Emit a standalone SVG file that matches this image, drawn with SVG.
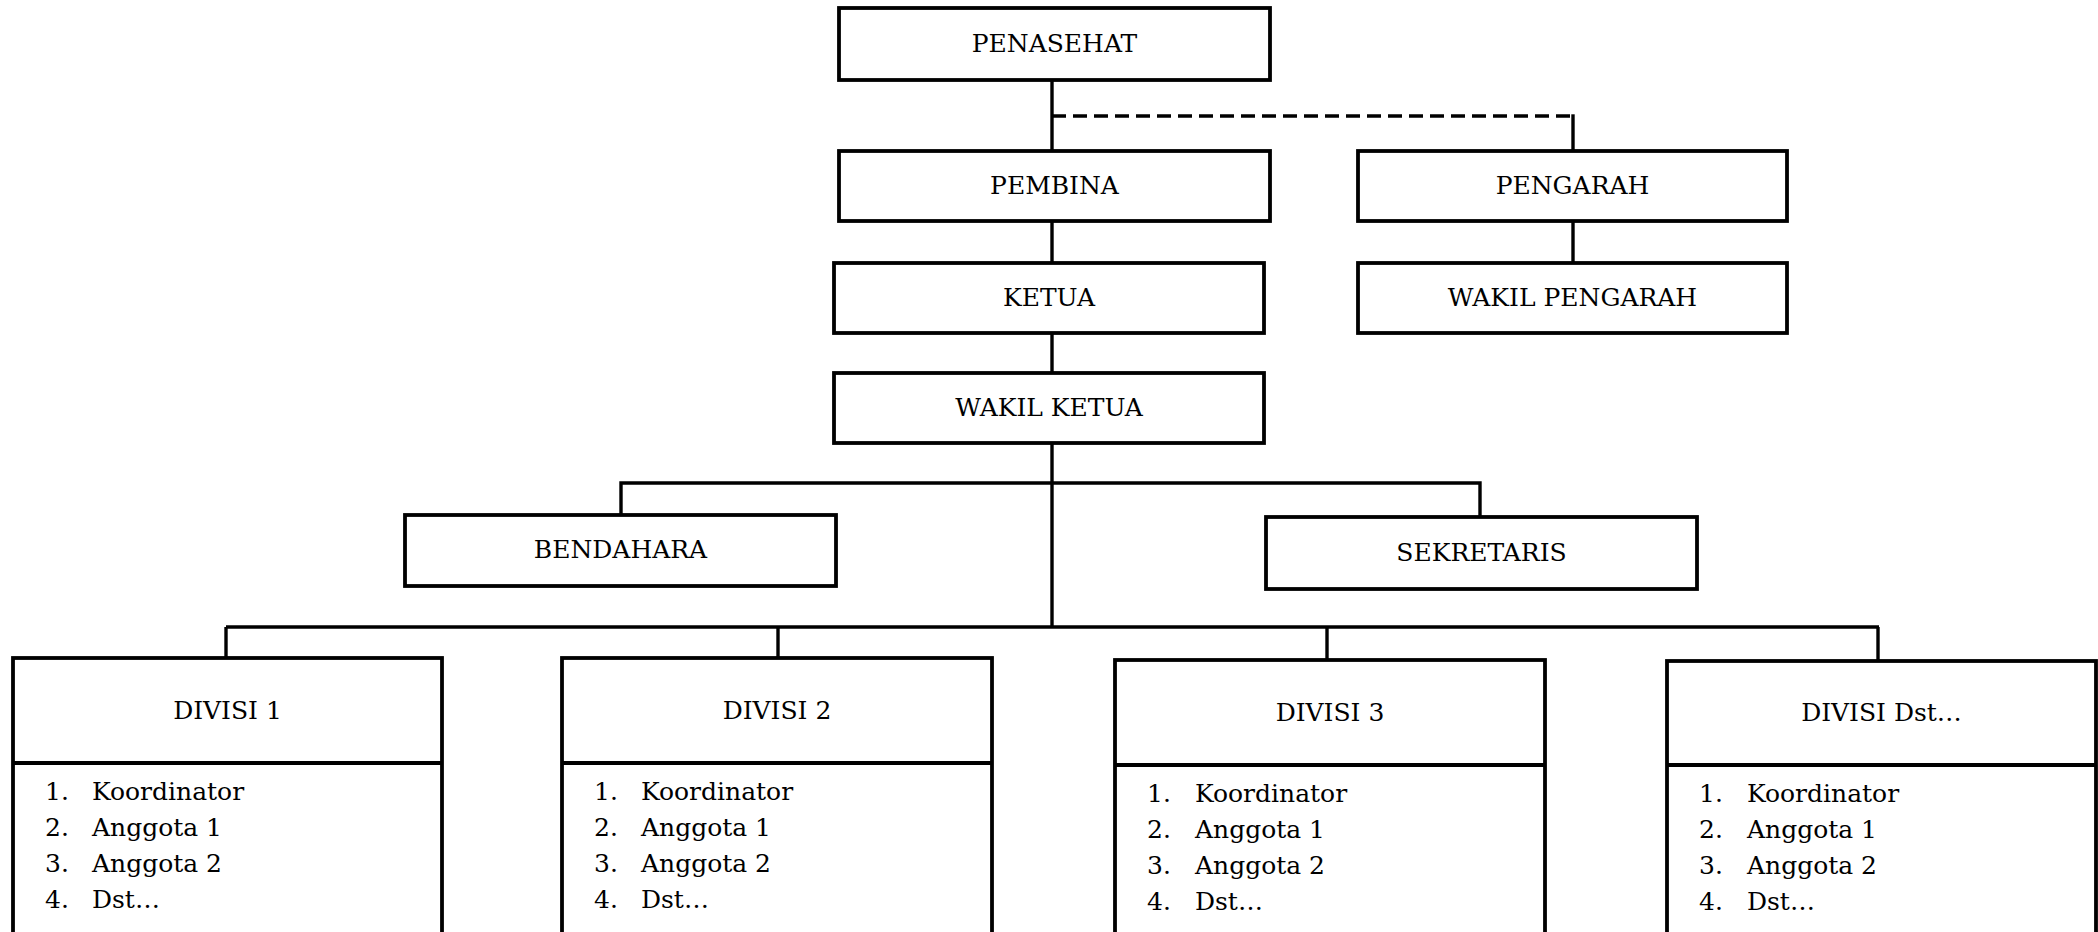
<svg xmlns="http://www.w3.org/2000/svg" width="2098" height="932" viewBox="0 0 2098 932">
<style>
.box{fill:#fff;stroke:#000;stroke-width:3.8}
.ln{fill:none;stroke:#000;stroke-width:3.4}
.dv{fill:none;stroke:#000;stroke-width:3.8}
.dash{fill:none;stroke:#000;stroke-width:3.4;stroke-dasharray:14 7}
text{font-family:"DejaVu Serif","Liberation Serif",serif;font-size:25px;fill:#000}
.c{text-anchor:middle}
.li{font-size:25.5px}
</style>
<rect x="0" y="0" width="2098" height="932" fill="#fff"/>
<g id="connectors">
<line class="ln" x1="1052" y1="80" x2="1052" y2="151"/>
<line class="dash" x1="1052" y1="116" x2="1573" y2="116"/>
<line class="ln" x1="1573" y1="114.3" x2="1573" y2="151"/>
<line class="ln" x1="1052" y1="221" x2="1052" y2="263"/>
<line class="ln" x1="1573" y1="221" x2="1573" y2="263"/>
<line class="ln" x1="1052" y1="333" x2="1052" y2="373"/>
<line class="ln" x1="1052" y1="443" x2="1052" y2="627"/>
<polyline class="ln" points="621,515 621,483 1480,483 1480,516"/>
<line class="ln" x1="226" y1="627" x2="1879" y2="627"/>
<line class="ln" x1="226" y1="627" x2="226" y2="658"/>
<line class="ln" x1="778" y1="627" x2="778" y2="658"/>
<line class="ln" x1="1327" y1="627" x2="1327" y2="660"/>
<line class="ln" x1="1878" y1="627" x2="1878" y2="661"/>
</g>
<g id="penasehat"><rect class="box" x="839" y="8" width="431" height="72"/><text class="c" x="1054.5" y="52">PENASEHAT</text></g>
<g id="pembina"><rect class="box" x="839" y="151" width="431" height="70"/><text class="c" x="1054.5" y="194">PEMBINA</text></g>
<g id="pengarah"><rect class="box" x="1358" y="151" width="429" height="70"/><text class="c" x="1572.5" y="194">PENGARAH</text></g>
<g id="ketua"><rect class="box" x="834" y="263" width="430" height="70"/><text class="c" x="1049" y="306">KETUA</text></g>
<g id="wakil-pengarah"><rect class="box" x="1358" y="263" width="429" height="70"/><text class="c" x="1572.5" y="306">WAKIL PENGARAH</text></g>
<g id="wakil-ketua"><rect class="box" x="834" y="373" width="430" height="70"/><text class="c" x="1049" y="416">WAKIL KETUA</text></g>
<g id="bendahara"><rect class="box" x="405" y="515" width="431" height="71"/><text class="c" x="620.5" y="558">BENDAHARA</text></g>
<g id="sekretaris"><rect class="box" x="1266" y="517" width="431" height="72"/><text class="c" x="1481.5" y="561">SEKRETARIS</text></g>
<g id="divisi1">
<rect class="box" x="13" y="658" width="429" height="290"/>
<line class="dv" x1="13" y1="763" x2="442" y2="763"/>
<text class="c" x="227.5" y="719">DIVISI 1</text>
<g class="li"><text x="45" y="800">1.</text><text x="92" y="800">Koordinator</text>
<text x="45" y="836">2.</text><text x="92" y="836">Anggota 1</text>
<text x="45" y="872">3.</text><text x="92" y="872">Anggota 2</text>
<text x="45" y="908">4.</text><text x="92" y="908">Dst…</text></g>
</g>
<g id="divisi2">
<rect class="box" x="562" y="658" width="430" height="290"/>
<line class="dv" x1="562" y1="763" x2="992" y2="763"/>
<text class="c" x="777" y="719">DIVISI 2</text>
<g class="li"><text x="594" y="800">1.</text><text x="641" y="800">Koordinator</text>
<text x="594" y="836">2.</text><text x="641" y="836">Anggota 1</text>
<text x="594" y="872">3.</text><text x="641" y="872">Anggota 2</text>
<text x="594" y="908">4.</text><text x="641" y="908">Dst…</text></g>
</g>
<g id="divisi3">
<rect class="box" x="1115" y="660" width="430" height="290"/>
<line class="dv" x1="1115" y1="765" x2="1545" y2="765"/>
<text class="c" x="1330" y="721">DIVISI 3</text>
<g class="li"><text x="1147" y="802">1.</text><text x="1195" y="802">Koordinator</text>
<text x="1147" y="838">2.</text><text x="1195" y="838">Anggota 1</text>
<text x="1147" y="874">3.</text><text x="1195" y="874">Anggota 2</text>
<text x="1147" y="910">4.</text><text x="1195" y="910">Dst…</text></g>
</g>
<g id="divisi-dst">
<rect class="box" x="1667" y="661" width="429" height="290"/>
<line class="dv" x1="1667" y1="765" x2="2096" y2="765"/>
<text class="c" x="1881.5" y="721">DIVISI Dst…</text>
<g class="li"><text x="1699" y="802">1.</text><text x="1747" y="802">Koordinator</text>
<text x="1699" y="838">2.</text><text x="1747" y="838">Anggota 1</text>
<text x="1699" y="874">3.</text><text x="1747" y="874">Anggota 2</text>
<text x="1699" y="910">4.</text><text x="1747" y="910">Dst…</text></g>
</g>
</svg>
